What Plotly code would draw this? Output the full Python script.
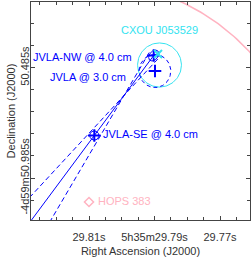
import numpy as np
import plotly.graph_objects as go

# ---------------- data ----------------
# RA in seconds of 5h35m, Dec in arcsec of -4d59m
src_names = ["JVLA-SE @ 4.0 cm", "JVLA-NW @ 4.0 cm", "JVLA @ 3.0 cm"]
src_ra = [29.80838, 29.79024, 29.78985]
src_dec = [50.7923, 50.4297, 50.5000]
src_bmaj = [0.021, 0.028, 0.075]   # arcsec
src_bmin = [0.021, 0.019, 0.072]   # arcsec
src_bpa = [0.0, 140.0, 0.0]        # deg

cxou_name = "CXOU J053529"
cxou_ra = 29.78893
cxou_dec = 50.4229
cxou_circ_ra = 29.78847
cxou_circ_dec = 50.4728
cxou_radius = 0.10

hops_name = "HOPS 383"
hops_ra = 29.8100
hops_dec = 51.0938
hops_radius = 1.0

pa_err_deg = 6.2

x_tickvals = [29.81, 29.79, 29.77]
x_ticktext = ["29.81s", "5h35m29.79s", "29.77s"]
y_tickvals = [50.485, 50.985]
y_ticktext = ["50.485s", "-4d59m50.985s"]

# ---------------- helpers ----------------
DEC_DEG = -(4 + 59 / 60 + 50.5 / 3600)
K = 15 * np.cos(np.radians(DEC_DEG))  # arcsec per RA second


def off(ra, dec, dE, dN):
    return ra + np.asarray(dE) / K, dec - np.asarray(dN)


def ellipse(ra, dec, a, b, pa_deg, n=120):
    t = np.linspace(0, 2 * np.pi, n)
    pa = np.radians(pa_deg)
    u = a * np.cos(t)
    v = b * np.sin(t)
    dN = u * np.cos(pa) - v * np.sin(pa)
    dE = u * np.sin(pa) + v * np.cos(pa)
    return off(ra, dec, dE, dN)


BLUE = "#0000ff"
CYAN = "#33e3f0"
PINK = "#ffb3c1"
FONT = "Liberation Sans, Arial, sans-serif"

fig = go.Figure()

# pink circle around HOPS 383
x, y = ellipse(hops_ra, hops_dec, hops_radius, hops_radius, 0, 400)
fig.add_trace(go.Scatter(x=x, y=y, mode="lines", line=dict(color=PINK, width=1.5), hoverinfo="skip"))

# CXOU circle
x, y = ellipse(cxou_circ_ra, cxou_circ_dec, cxou_radius, cxou_radius, 0)
fig.add_trace(go.Scatter(x=x, y=y, mode="lines", line=dict(color=CYAN, width=1), hoverinfo="skip"))

# position-angle lines between SE and NW
se_ra, se_dec = src_ra[0], src_dec[0]
nw_ra, nw_dec = src_ra[1], src_dec[1]
vE = (nw_ra - se_ra) * K
vN = -(nw_dec - se_dec)
pa0 = np.arctan2(vE, vN)
half = 0.5 * np.hypot(vE, vN)
mE, mN = vE / 2, vN / 2  # midpoint offset from SE
far = 4.0
for dpa, dash in [(0.0, "solid"), (pa_err_deg, "5px,3px"), (-pa_err_deg, "5px,3px")]:
    a = pa0 + np.radians(dpa)
    uE, uN = np.sin(a), np.cos(a)
    dE = [mE + half * uE, mE - far * uE]
    dN = [mN + half * uN, mN - far * uN]
    x, y = off(se_ra, se_dec, dE, dN)
    fig.add_trace(go.Scatter(x=x, y=y, mode="lines", line=dict(color=BLUE, width=1, dash=dash), hoverinfo="skip"))

# source beams / error ellipses
for i in range(3):
    x, y = ellipse(src_ra[i], src_dec[i], src_bmaj[i], src_bmin[i], src_bpa[i])
    fig.add_trace(go.Scatter(x=x, y=y, mode="lines",
                             line=dict(color=BLUE, width=1, dash="4px,3px" if i == 2 else "solid"),
                             hoverinfo="skip"))

# markers
fig.add_trace(go.Scatter(x=src_ra, y=src_dec, mode="markers",
                         marker=dict(symbol="cross-thin", size=9, line=dict(color=BLUE, width=2))))
fig.add_trace(go.Scatter(x=[cxou_ra], y=[cxou_dec], mode="markers",
                         marker=dict(symbol="x-thin", size=8, line=dict(color=CYAN, width=2))))
fig.add_trace(go.Scatter(x=[hops_ra], y=[hops_dec], mode="markers",
                         marker=dict(symbol="diamond-open", size=7, color=PINK, line=dict(color=PINK, width=1.5))))

# labels
ann = []
ann.append(dict(x=src_ra[0], y=src_dec[0], text=src_names[0], xanchor="left", yanchor="middle",
                xshift=7, yshift=1, font=dict(color=BLUE, size=11, family=FONT), showarrow=False))
ann.append(dict(x=src_ra[1], y=src_dec[1], text=src_names[1], xanchor="right", yanchor="middle",
                xshift=-20, yshift=-1, font=dict(color=BLUE, size=11, family=FONT), showarrow=False))
ann.append(dict(x=src_ra[2], y=src_dec[2], text=src_names[2], xanchor="right", yanchor="middle",
                xshift=-27, yshift=-6, font=dict(color=BLUE, size=11, family=FONT), showarrow=False))
ann.append(dict(x=cxou_circ_ra, y=cxou_circ_dec, text=cxou_name, xanchor="center", yanchor="middle",
                xshift=0, yshift=35, font=dict(color=CYAN, size=11, family=FONT), showarrow=False))
ann.append(dict(x=hops_ra, y=hops_dec, text=hops_name, xanchor="left", yanchor="middle",
                xshift=7, yshift=1, font=dict(color=PINK, size=11, family=FONT), showarrow=False))

AX = "#444444"
fig.update_layout(
    width=251, height=257,
    margin=dict(l=31, r=1, t=2, b=37, autoexpand=False),
    paper_bgcolor="white", plot_bgcolor="white",
    showlegend=False,
    annotations=ann,
    font=dict(family=FONT, size=11, color="#333333"),
)
fig.update_xaxes(
    range=[29.82771, 29.76084], tickmode="array", tickvals=x_tickvals, ticktext=x_ticktext,
    showgrid=False, zeroline=False, showline=True, linecolor=AX, linewidth=1, mirror="ticks",
    ticks="inside", ticklen=4, tickcolor=AX, ticklabelstandoff=7,
    minor=dict(tickmode="linear", tick0=29.81, dtick=0.005, ticks="inside", ticklen=3, tickcolor=AX, showgrid=False),
    title=dict(text="Right Ascension (J2000)", standoff=10, font=dict(size=11)),
    tickfont=dict(size=11), automargin=False,
)
fig.update_yaxes(
    range=[51.1754, 50.1872], tickmode="array", tickvals=y_tickvals, ticktext=y_ticktext,
    showgrid=False, zeroline=False, showline=True, linecolor=AX, linewidth=1, mirror="ticks",
    ticks="inside", ticklen=4, tickcolor=AX, tickangle=-90, ticklabelstandoff=-3,
    minor=dict(tickmode="linear", tick0=50.485, dtick=0.1, ticks="inside", ticklen=3, tickcolor=AX, showgrid=False),
    title=dict(text="Declination (J2000)", standoff=0, font=dict(size=11)),
    tickfont=dict(size=11), automargin=False,
)

fig.write_html("out.html", config={"displayModeBar": False},
               post_script="document.body.style.margin='0';")
